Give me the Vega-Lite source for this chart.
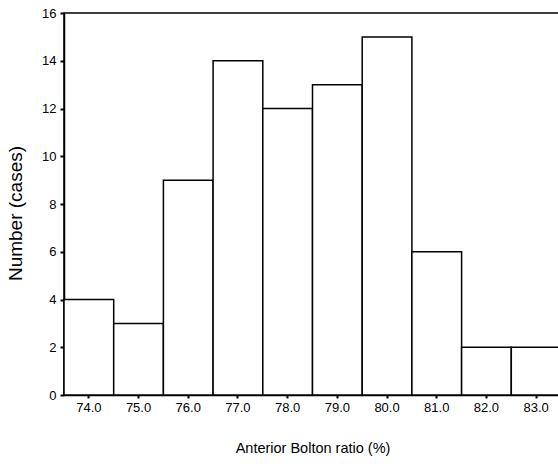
{
  "$schema": "https://vega.github.io/schema/vega-lite/v6.json",
  "autosize": "none",
  "width": 497,
  "height": 382,
  "padding": {"left": 64, "top": 13, "right": 0, "bottom": 69},
  "background": "white",
  "config": {
    "view": {"stroke": "black", "strokeWidth": 1.5},
    "font": "Liberation Sans",
    "axis": {"domainColor": "black", "tickColor": "black", "labelColor": "black", "titleColor": "black", "grid": false, "labelFontSize": 13, "titleFontSize": 14.5, "titleFontWeight": "normal", "domainWidth": 1.5}
  },
  "data": {"values": [
    {"ratio": "74.0", "count": 4},
    {"ratio": "75.0", "count": 3},
    {"ratio": "76.0", "count": 9},
    {"ratio": "77.0", "count": 14},
    {"ratio": "78.0", "count": 12},
    {"ratio": "79.0", "count": 13},
    {"ratio": "80.0", "count": 15},
    {"ratio": "81.0", "count": 6},
    {"ratio": "82.0", "count": 2},
    {"ratio": "83.0", "count": 2}
  ]},
  "mark": {"type": "bar", "fill": "white", "stroke": "black", "strokeWidth": 1.5},
  "encoding": {
    "x": {"field": "ratio", "type": "ordinal", "scale": {"paddingInner": 0, "paddingOuter": 0},
      "axis": {"title": "Anterior Bolton ratio (%)", "labelAngle": 0, "tickSize": 3, "tickWidth": 2, "labelPadding": 3, "titlePadding": 27}},
    "y": {"field": "count", "type": "quantitative", "scale": {"domain": [0, 16]},
      "axis": {"title": "Number (cases)", "titleFontSize": 19, "titleY": 200, "values": [0,2,4,6,8,10,12,14,16], "tickSize": 4, "tickWidth": 2, "labelPadding": 4, "titlePadding": 16}}
  }
}
